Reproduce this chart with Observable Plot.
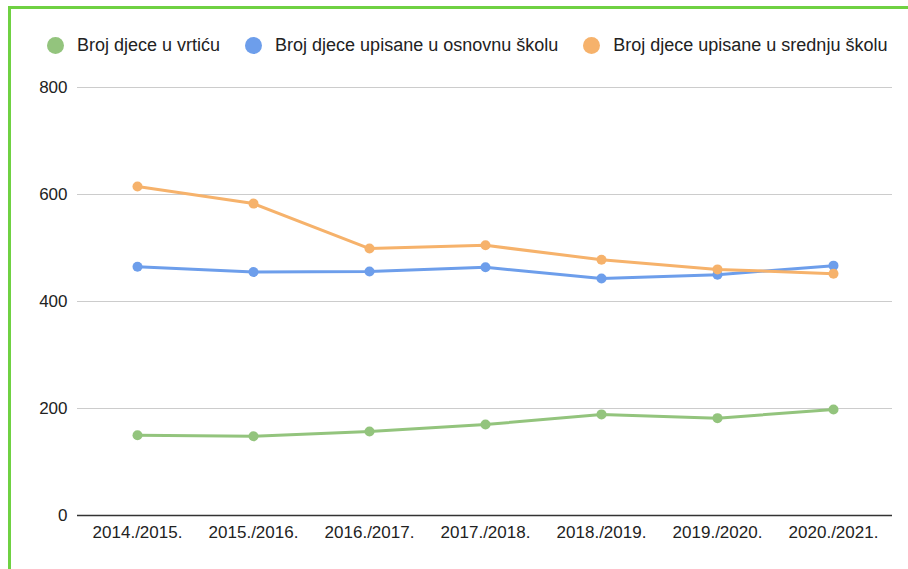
<!DOCTYPE html>
<html>
<head>
<meta charset="utf-8">
<script src="https://cdn.jsdelivr.net/npm/d3@7"></script>
<script src="https://cdn.jsdelivr.net/npm/@observablehq/plot@0.6"></script>
<style>
  html, body { margin: 0; padding: 0; background: #fff; width: 908px; height: 569px; overflow: hidden; }
  body { position: relative; font-family: "Liberation Sans", Arial, sans-serif; }
  #frame { position: absolute; left: 8px; top: 6px; width: 1200px; height: 1200px; border: 3px solid #6fd142; box-sizing: border-box; pointer-events: none; }
  #legend { position: absolute; left: 47px; top: 35px; height: 20px; display: flex; align-items: center; font-size: 18px; color: #222; white-space: nowrap; }
  .item { display: flex; align-items: center; margin-right: 25px; }
  .dot { width: 17px; height: 17px; border-radius: 50%; margin-right: 13px; }
  #chart { position: absolute; left: 0; top: 70px; }
</style>
</head>
<body>
<div id="frame"></div>
<div id="legend"></div>
<div id="chart"></div>
<script>
const seasons = ["2014./2015.", "2015./2016.", "2016./2017.", "2017./2018.", "2018./2019.", "2019./2020.", "2020./2021."];
const vrtic = [150, 148, 157, 170, 189, 182, 198];
const osnovna = [465, 455, 456, 464, 443, 450, 467];
const srednja = [615, 583, 499, 505, 478, 460, 452];
const seriesNames = ["Broj djece u vrtiću", "Broj djece upisane u osnovnu školu", "Broj djece upisane u srednju školu"];
const seriesColors = ["#93c47d", "#6d9eeb", "#f6b26b"];
const yTicks = [0, 200, 400, 600, 800];

const seriesValues = [vrtic, osnovna, srednja];
const data = seriesNames.flatMap((name, i) =>
  seasons.map((s, j) => ({ season: s, value: seriesValues[i][j], series: name }))
);

const legend = document.getElementById("legend");
seriesNames.forEach((n, i) => {
  const it = document.createElement("div");
  it.className = "item";
  const d = document.createElement("span");
  d.className = "dot";
  d.style.background = seriesColors[i];
  const t = document.createElement("span");
  t.textContent = n;
  it.appendChild(d); it.appendChild(t);
  legend.appendChild(it);
});

const chart = Plot.plot({
  width: 908,
  height: 485,
  marginTop: 17,
  marginBottom: 40,
  marginLeft: 77,
  marginRight: 16,
  style: { fontFamily: "Liberation Sans, Arial, sans-serif", fontSize: "17px", color: "#222", background: "transparent" },
  x: { type: "point", domain: seasons, padding: 0.5, label: null },
  y: { domain: [0, 800], label: null },
  color: { domain: seriesNames, range: seriesColors },
  marks: [
    Plot.ruleY(yTicks.filter(d => d > 0), { stroke: "#cccccc", strokeWidth: 1.2 }),
    Plot.ruleY([0], { stroke: "#333", strokeWidth: 1.5 }),
    Plot.axisY({ ticks: yTicks, tickSize: 0, tickPadding: 10, label: null, fill: "#222" }),
    Plot.axisX({ tickSize: 0, tickPadding: 10, label: null, fill: "#222" }),
    Plot.line(data, { x: "season", y: "value", z: "series", stroke: "series", strokeWidth: 3 }),
    Plot.dot(data, { x: "season", y: "value", fill: "series", r: 5 })
  ]
});
document.getElementById("chart").appendChild(chart);
</script>
</body>
</html>
